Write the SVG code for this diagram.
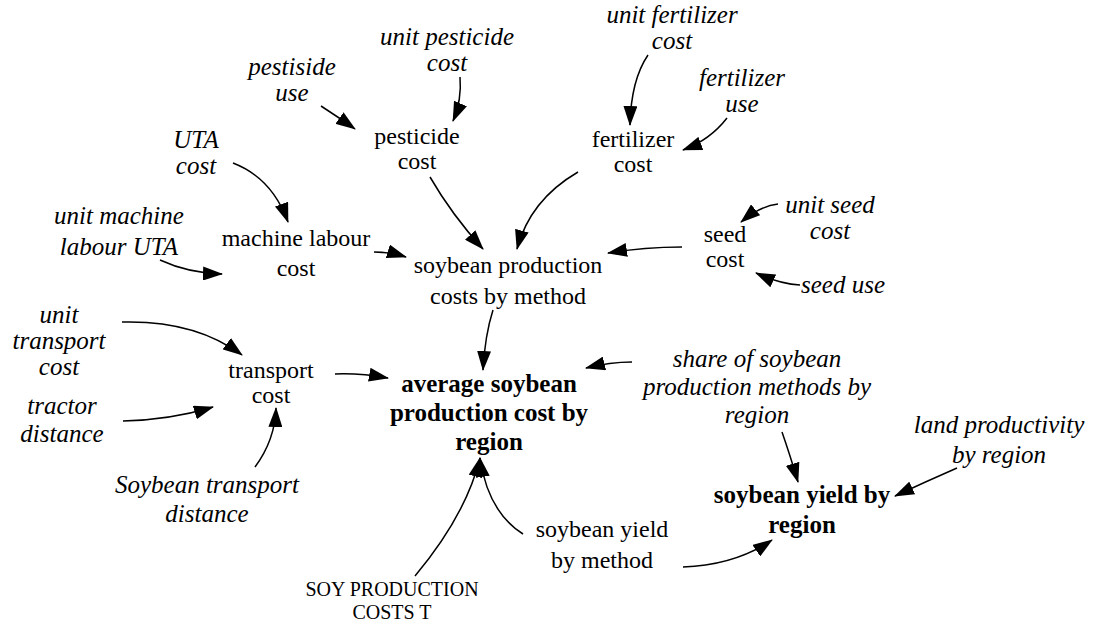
<svg xmlns="http://www.w3.org/2000/svg" width="1093" height="626" viewBox="0 0 1093 626">
  <defs>
    <marker id="ah" viewBox="0 0 20 14" refX="19" refY="7" markerWidth="20" markerHeight="14" orient="auto" markerUnits="userSpaceOnUse">
      <path d="M0,0 L20,7 L0,14 Z" fill="#000"/>
    </marker>
    <style>
      .lbl { font-family: "Liberation Serif", "Times New Roman", serif; text-anchor: middle; fill: #000; }
      .aux { font-style: italic; font-size: 25px; }
      .var { font-size: 24px; }
      .key { font-weight: bold; font-size: 25px; }
      .const { font-size: 20px; }
      .links path { fill: none; stroke: #000; stroke-width: 1.5; marker-end: url(#ah); }
    </style>
  </defs>
  <rect width="1093" height="626" fill="#fff"/>

  <!-- causal links -->
  <g id="links" class="links">
    <path d="M321,106 Q338,117 355,129"/>
    <path d="M460,77 Q462,100 453,121"/>
    <path d="M648,55 Q631,80 630,125"/>
    <path d="M727,118 Q710,140 683,150"/>
    <path d="M233,163 Q272,178 288,222"/>
    <path d="M160,260 Q188,273 222,274"/>
    <path d="M374,252 Q390,252 406,257"/>
    <path d="M430,177 Q452,215 483,249"/>
    <path d="M578,172 Q530,200 517,249"/>
    <path d="M682,247 Q645,247 608,253"/>
    <path d="M778,204 Q760,206 741,222"/>
    <path d="M800,285 Q780,284 756,273"/>
    <path d="M493,310 Q485,335 483,370"/>
    <path d="M122,322 Q195,320 242,355"/>
    <path d="M123,421 Q170,420 213,407"/>
    <path d="M255,467 Q275,440 276,408"/>
    <path d="M335,374 Q360,373 388,378"/>
    <path d="M632,362 Q610,362 586,368"/>
    <path d="M415,576 Q466,515 480,458"/>
    <path d="M523,534 Q488,512 480,458"/>
    <path d="M683,567 Q735,565 772,540"/>
    <path d="M782,432 Q790,455 798,482"/>
    <path d="M957,468 Q925,482 895,496"/>
  </g>

  <g class="lbl">
    <g id="unit-pesticide-cost"><text class="aux" x="447" y="45">unit pesticide</text><text class="aux" x="447" y="71">cost</text></g>
    <g id="pestiside-use"><text class="aux" x="292" y="75">pestiside</text><text class="aux" x="292" y="101">use</text></g>
    <g id="unit-fertilizer-cost"><text class="aux" x="672" y="23">unit fertilizer</text><text class="aux" x="672" y="49">cost</text></g>
    <g id="fertilizer-use"><text class="aux" x="742" y="86">fertilizer</text><text class="aux" x="742" y="112">use</text></g>
    <g id="uta-cost"><text class="aux" x="196" y="148">UTA</text><text class="aux" x="196" y="174">cost</text></g>
    <g id="unit-machine-labour-uta"><text class="aux" x="119" y="224">unit machine</text><text class="aux" x="119" y="255">labour UTA</text></g>
    <g id="unit-seed-cost"><text class="aux" x="830" y="213">unit seed</text><text class="aux" x="830" y="239">cost</text></g>
    <g id="seed-use"><text class="aux" x="843" y="293">seed use</text></g>
    <g id="unit-transport-cost"><text class="aux" x="59" y="323">unit</text><text class="aux" x="59" y="349">transport</text><text class="aux" x="59" y="375">cost</text></g>
    <g id="tractor-distance"><text class="aux" x="62" y="414">tractor</text><text class="aux" x="62" y="442">distance</text></g>
    <g id="soybean-transport-distance"><text class="aux" x="207" y="493">Soybean transport</text><text class="aux" x="207" y="522">distance</text></g>
    <g id="share-of-methods"><text class="aux" x="757" y="367">share of soybean</text><text class="aux" x="757" y="395">production methods by</text><text class="aux" x="757" y="423">region</text></g>
    <g id="land-productivity"><text class="aux" x="999" y="433">land productivity</text><text class="aux" x="999" y="463">by region</text></g>

    <g id="pesticide-cost"><text class="var" x="417" y="144">pesticide</text><text class="var" x="417" y="169">cost</text></g>
    <g id="fertilizer-cost"><text class="var" x="633" y="147">fertilizer</text><text class="var" x="633" y="172">cost</text></g>
    <g id="machine-labour-cost"><text class="var" x="296" y="246">machine labour</text><text class="var" x="296" y="276">cost</text></g>
    <g id="soybean-production-costs"><text class="var" x="508" y="273">soybean production</text><text class="var" x="508" y="304">costs by method</text></g>
    <g id="seed-cost"><text class="var" x="725" y="242">seed</text><text class="var" x="725" y="267">cost</text></g>
    <g id="transport-cost"><text class="var" x="271" y="378">transport</text><text class="var" x="271" y="403">cost</text></g>
    <g id="soybean-yield-by-method"><text class="var" x="602" y="537">soybean yield</text><text class="var" x="602" y="568">by method</text></g>

    <g id="average-cost-by-region"><text class="key" x="489" y="392">average soybean</text><text class="key" x="489" y="421">production cost by</text><text class="key" x="489" y="450">region</text></g>
    <g id="soybean-yield-by-region"><text class="key" x="802" y="503">soybean yield by</text><text class="key" x="802" y="533">region</text></g>

    <g id="soy-production-costs-t"><text class="const" x="392" y="596">SOY PRODUCTION</text><text class="const" x="392" y="619">COSTS T</text></g>
  </g>
</svg>
